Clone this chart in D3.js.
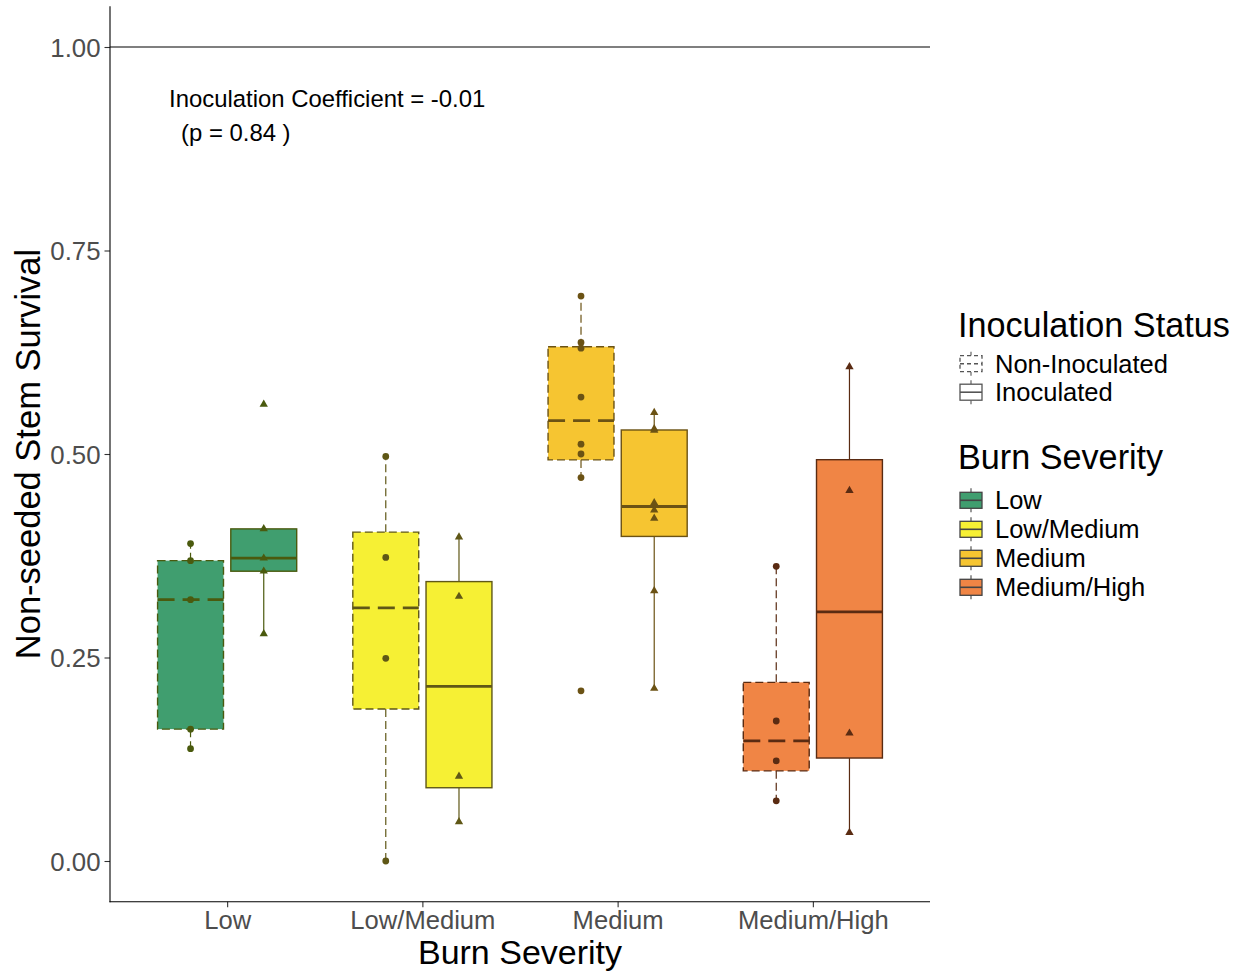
<!DOCTYPE html>
<html>
<head>
<meta charset="utf-8">
<script src="https://cdn.jsdelivr.net/npm/d3@7"></script>
<style>
  html, body { margin: 0; padding: 0; background: #fff; }
  svg { display: block; font-family: "Liberation Sans", Arial, sans-serif; }
</style>
</head>
<body>
<svg id="chart" width="1242" height="972"></svg>
<script>
// Burn severity categories on the x axis
const categories = ["Low", "Low/Medium", "Medium", "Medium/High"];
// Inoculation groups, dodged within each category
const statuses = ["Non-Inoculated", "Inoculated"];

// Plot-level survival observations, one array per burn severity category
const nonInoculated = [
  [0.390, 0.369, 0.321, 0.162, 0.138],
  [0.497, 0.373, 0.249, 0.000],
  [0.694, 0.637, 0.630, 0.570, 0.512, 0.500, 0.471, 0.209],
  [0.362, 0.172, 0.123, 0.074]
];
const inoculated = [
  [0.561, 0.408, 0.372, 0.356, 0.279],
  [0.398, 0.325, 0.104, 0.048],
  [0.551, 0.531, 0.529, 0.440, 0.431, 0.421, 0.332, 0.212],
  [0.607, 0.455, 0.157, 0.035]
];

const yTicks = [0, 0.25, 0.5, 0.75, 1.0];
const refLine = 1.0;
const coefText = "Inoculation Coefficient = -0.01";
const pText = "(p = 0.84 )";

// Colours
const fillColors = ["#409e6f", "#f6f034", "#f6c531", "#f08545"];
const lineColors = ["#4a5a0e", "#5f5716", "#6b5214", "#5a2b12"];

const svg = d3.select("#chart");

const x = d3.scaleLinear().domain([0.4, 4.6]).range([110, 930]);
const y = d3.scaleLinear().domain([0, 1]).range([861, 47]);
const panelTop = y(1.05), panelBottom = y(-0.05);

const dodge = [-0.1875, 0.1875];
const boxHalf = 0.1688;

// Reference line at full survival
svg.append("line")
  .attr("x1", x(0.4)).attr("x2", x(4.6))
  .attr("y1", y(refLine)).attr("y2", y(refLine))
  .attr("stroke", "#000").attr("stroke-width", 1.1);

// Box statistics (R type-7 quantiles, 1.5 IQR whiskers)
function stats(values) {
  const s = values.slice().sort(d3.ascending);
  const q1 = d3.quantile(s, 0.25), med = d3.quantile(s, 0.5), q3 = d3.quantile(s, 0.75);
  const iqr = q3 - q1;
  const lo = d3.min(s.filter(v => v >= q1 - 1.5 * iqr));
  const hi = d3.max(s.filter(v => v <= q3 + 1.5 * iqr));
  return {q1, med, q3, lo, hi};
}

const groups = [];
categories.forEach((c, i) => {
  [nonInoculated[i], inoculated[i]].forEach((vals, j) => {
    groups.push({cat: i, status: j, values: vals, st: stats(vals), cx: i + 1 + dodge[j]});
  });
});

const plot = svg.append("g");

groups.forEach(g => {
  const gg = plot.append("g");
  const col = lineColors[g.cat];
  const dashed = g.status === 0;
  const cx = x(g.cx);
  // whiskers
  [[g.st.q3, g.st.hi], [g.st.q1, g.st.lo]].forEach(([a, b]) => {
    if (a === b) return;
    gg.append("line")
      .attr("x1", cx).attr("x2", cx)
      .attr("y1", y(a)).attr("y2", y(b))
      .attr("stroke", col).attr("stroke-width", 1.2)
      .attr("stroke-dasharray", dashed ? "8,4" : null);
  });
  // box
  gg.append("rect")
    .attr("x", x(g.cx - boxHalf))
    .attr("width", x(g.cx + boxHalf) - x(g.cx - boxHalf))
    .attr("y", y(g.st.q3))
    .attr("height", y(g.st.q1) - y(g.st.q3))
    .attr("fill", fillColors[g.cat])
    .attr("stroke", col).attr("stroke-width", 1.4)
    .attr("stroke-dasharray", dashed ? "8,4" : null);
  // median
  gg.append("line")
    .attr("x1", x(g.cx - boxHalf)).attr("x2", x(g.cx + boxHalf))
    .attr("y1", y(g.st.med)).attr("y2", y(g.st.med))
    .attr("stroke", col).attr("stroke-width", 2.8)
    .attr("stroke-dasharray", dashed ? "17,8" : null);
});

// Observations
groups.forEach(g => {
  const sym = d3.symbol().type(g.status === 0 ? d3.symbolCircle : d3.symbolTriangle)
    .size(g.status === 0 ? 36 : 30);
  plot.append("g").selectAll("path")
    .data(g.values).join("path")
    .attr("transform", v => `translate(${x(g.cx)},${y(v)})`)
    .attr("d", sym)
    .attr("fill", lineColors[g.cat]);
});

// Axes
const yAxis = d3.axisLeft(y).tickValues(yTicks).tickFormat(d3.format(".2f")).tickSize(5.5).tickPadding(4);
const ya = svg.append("g").attr("transform", `translate(${x(0.4)},0)`).call(yAxis);
ya.select(".domain").remove();
ya.selectAll(".tick line").attr("stroke", "#333").attr("stroke-width", 1.1);
ya.selectAll(".tick text").attr("fill", "#4d4d4d").attr("font-size", 25.8)
  .attr("font-family", "Liberation Sans, Arial, sans-serif").attr("dy", "0.35em");
svg.append("line").attr("x1", x(0.4)).attr("x2", x(0.4))
  .attr("y1", panelTop).attr("y2", panelBottom + 0.5)
  .attr("stroke", "#000").attr("stroke-width", 1.1);

const xAxis = d3.axisBottom(x).tickValues([1, 2, 3, 4]).tickFormat(d => categories[d - 1]).tickSize(5.5).tickPadding(4);
const xa = svg.append("g").attr("transform", `translate(0,${panelBottom})`).call(xAxis);
xa.select(".domain").remove();
xa.selectAll(".tick line").attr("stroke", "#333").attr("stroke-width", 1.1);
xa.selectAll(".tick text").attr("fill", "#4d4d4d").attr("font-size", 25.6)
  .attr("font-family", "Liberation Sans, Arial, sans-serif").attr("dy", "0.71em");
svg.append("line").attr("x1", x(0.4) - 0.5).attr("x2", x(4.6))
  .attr("y1", panelBottom).attr("y2", panelBottom)
  .attr("stroke", "#000").attr("stroke-width", 1.1);

// Axis titles
svg.append("text").attr("x", (x(0.4) + x(4.6)) / 2).attr("y", 964)
  .attr("text-anchor", "middle").attr("font-size", 34).attr("fill", "#000")
  .text("Burn Severity");
svg.append("text")
  .attr("transform", `translate(40,${(panelTop + panelBottom) / 2}) rotate(-90)`)
  .attr("text-anchor", "middle").attr("font-size", 34.5).attr("fill", "#000")
  .text("Non-seeded Stem Survival");

// Model annotation
svg.append("text").attr("x", 169).attr("y", 107).attr("font-size", 23.9).attr("fill", "#000").text(coefText);
svg.append("text").attr("x", 181).attr("y", 141).attr("font-size", 23.9).attr("fill", "#000").text(pText);

// Legends
const leg = svg.append("g");
function keyGlyph(g, cy, fill, stroke, dash) {
  const kx0 = 960, kx1 = 982, kc = (kx0 + kx1) / 2;
  g.append("line").attr("x1", kc).attr("x2", kc).attr("y1", cy - 12).attr("y2", cy - 8)
    .attr("stroke", stroke).attr("stroke-width", 1.1);
  g.append("line").attr("x1", kc).attr("x2", kc).attr("y1", cy + 8).attr("y2", cy + 12)
    .attr("stroke", stroke).attr("stroke-width", 1.1);
  g.append("rect").attr("x", kx0).attr("y", cy - 8).attr("width", kx1 - kx0).attr("height", 16)
    .attr("fill", fill).attr("stroke", stroke).attr("stroke-width", 1.3)
    .attr("stroke-dasharray", dash);
  g.append("line").attr("x1", kx0).attr("x2", kx1).attr("y1", cy).attr("y2", cy)
    .attr("stroke", stroke).attr("stroke-width", 1.6).attr("stroke-dasharray", dash);
}

leg.append("text").attr("x", 958).attr("y", 337).attr("font-size", 34.2).attr("fill", "#000").text("Inoculation Status");
statuses.forEach((s, j) => {
  const base = 372.7 + j * 28.5;
  keyGlyph(leg, base - 9, "#fff", "#555", j === 0 ? "4,3" : null);
  leg.append("text").attr("x", 995).attr("y", base).attr("font-size", 25.5).attr("fill", "#000").text(s);
});

leg.append("text").attr("x", 958).attr("y", 469).attr("font-size", 34.2).attr("fill", "#000").text("Burn Severity");
categories.forEach((c, i) => {
  const base = 509.3 + i * 29;
  keyGlyph(leg, base - 9, fillColors[i], "#444", null);
  leg.append("text").attr("x", 995).attr("y", base).attr("font-size", 25.5).attr("fill", "#000").text(c);
});
</script>
</body>
</html>
